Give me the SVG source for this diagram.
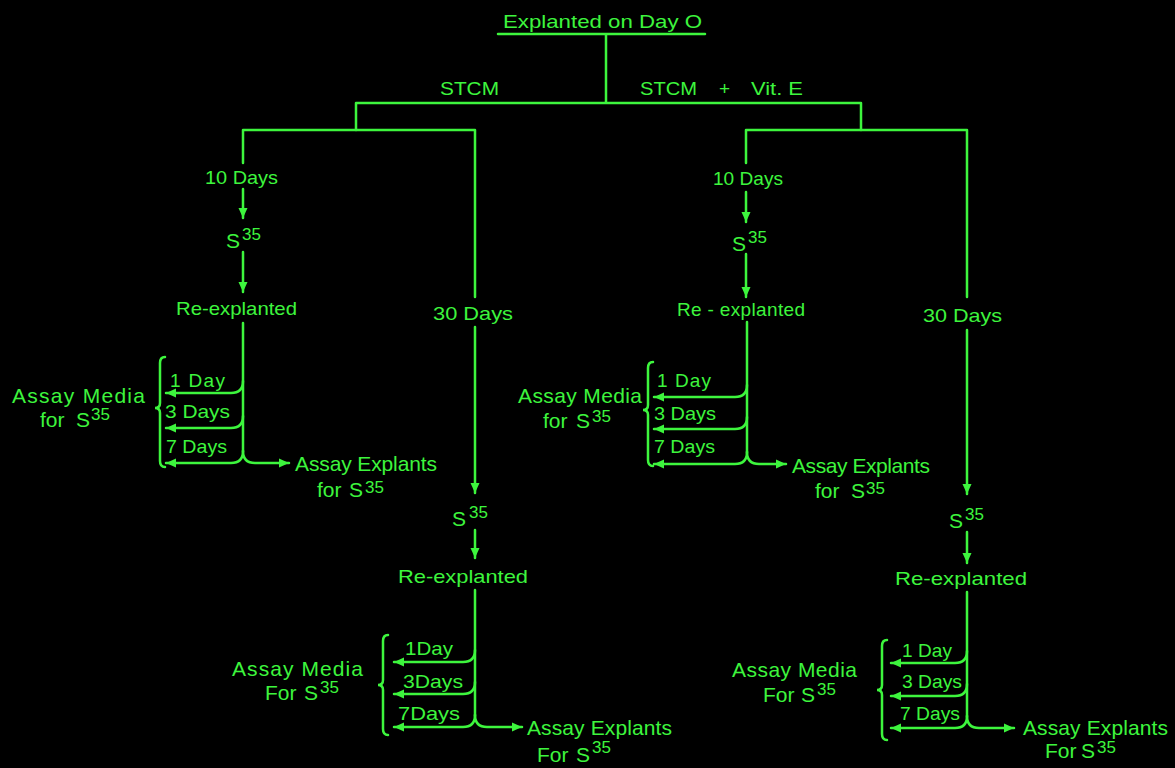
<svg xmlns="http://www.w3.org/2000/svg" width="1175" height="768" viewBox="0 0 1175 768">
<style>
.t{font-family:"Liberation Sans","DejaVu Sans",sans-serif;font-size:19px;fill:#3df53d}
.b{font-size:21px}
.S{font-size:21px}
.s{font-size:17px}
.c{fill:none;stroke:#3df53d;stroke-width:2.5;stroke-linecap:round}
.a{marker-end:url(#ah)}
</style>
<defs>
<marker id="ah" markerUnits="userSpaceOnUse" markerWidth="11" markerHeight="10" refX="10" refY="5" orient="auto">
<path d="M0,0.5 L10,5 L0,9.5 z" fill="#3df53d"/>
</marker>
</defs>
<rect width="1175" height="768" fill="#000"/>

<g id="title"><text class="t" x="503" y="28" textLength="199" lengthAdjust="spacingAndGlyphs">Explanted on Day O</text><path class="c" d="M498,34 H705"/></g>
<g id="stcm"><text class="t" x="440" y="95" textLength="59" lengthAdjust="spacingAndGlyphs">STCM</text></g>
<g id="stcm-vite"><text class="t" x="640" y="95"><tspan textLength="57" lengthAdjust="spacingAndGlyphs">STCM</tspan><tspan x="719">+</tspan><tspan x="751" textLength="52" lengthAdjust="spacingAndGlyphs">Vit. E</tspan></text></g>

<!-- left half -->
<g id="l-10days"><text class="t" x="205" y="184" textLength="73" lengthAdjust="spacingAndGlyphs">10 Days</text></g>
<g id="l-s35a"><text class="t S" x="226" y="248">S<tspan class="s" x="242" y="240">35</tspan></text></g>
<g id="l-reexp-a"><text class="t" x="176" y="315" textLength="121" lengthAdjust="spacingAndGlyphs">Re-explanted</text></g>
<g id="l-days-a"><text class="t" x="170" y="387" textLength="55" lengthAdjust="spacing">1 Day</text><text class="t" x="165" y="418" textLength="65" lengthAdjust="spacingAndGlyphs">3 Days</text><text class="t" x="166" y="453" textLength="61" lengthAdjust="spacingAndGlyphs">7 Days</text></g>
<g id="l-media-a"><text class="t b" x="12" y="403" textLength="133" lengthAdjust="spacing">Assay Media</text><text class="t b" x="40" y="427">for<tspan x="76">S</tspan><tspan class="s" x="91" y="420">35</tspan></text></g>
<g id="l-expl-a"><text class="t b" x="295" y="471" textLength="142" lengthAdjust="spacing">Assay Explants</text><text class="t b" x="317" y="497">for<tspan x="349">S</tspan><tspan class="s" x="365" y="493">35</tspan></text></g>
<g id="l-30days"><text class="t" x="433" y="320" textLength="80" lengthAdjust="spacingAndGlyphs">30 Days</text></g>
<g id="l-s35b"><text class="t S" x="452" y="526">S<tspan class="s" x="469" y="518">35</tspan></text></g>
<g id="l-reexp-b"><text class="t" x="398" y="583" textLength="130" lengthAdjust="spacingAndGlyphs">Re-explanted</text></g>
<g id="l-days-b"><text class="t" x="405" y="655" textLength="48" lengthAdjust="spacingAndGlyphs">1Day</text><text class="t" x="403" y="688" textLength="60" lengthAdjust="spacingAndGlyphs">3Days</text><text class="t" x="398" y="720" textLength="62" lengthAdjust="spacingAndGlyphs">7Days</text></g>
<g id="l-media-b"><text class="t b" x="232" y="676" textLength="131" lengthAdjust="spacing">Assay Media</text><text class="t b" x="265" y="700">For<tspan x="304">S</tspan><tspan class="s" x="320" y="693">35</tspan></text></g>
<g id="l-expl-b"><text class="t b" x="527" y="735" textLength="145" lengthAdjust="spacing">Assay Explants</text><text class="t b" x="537" y="762">For<tspan x="576">S</tspan><tspan class="s" x="592" y="753">35</tspan></text></g>

<!-- right half -->
<g id="r-10days"><text class="t" x="713" y="185" textLength="70" lengthAdjust="spacingAndGlyphs">10 Days</text></g>
<g id="r-s35a"><text class="t S" x="732" y="251">S<tspan class="s" x="748" y="243">35</tspan></text></g>
<g id="r-reexp-a"><text class="t" x="677" y="316" textLength="128" lengthAdjust="spacing">Re - explanted</text></g>
<g id="r-days-a"><text class="t" x="657" y="387" textLength="54" lengthAdjust="spacing">1 Day</text><text class="t" x="654" y="420" textLength="62" lengthAdjust="spacingAndGlyphs">3 Days</text><text class="t" x="654" y="453" textLength="61" lengthAdjust="spacingAndGlyphs">7 Days</text></g>
<g id="r-media-a"><text class="t b" x="518" y="403" textLength="124" lengthAdjust="spacing">Assay Media</text><text class="t b" x="543" y="428">for<tspan x="576">S</tspan><tspan class="s" x="592" y="422">35</tspan></text></g>
<g id="r-expl-a"><text class="t b" x="792" y="473" textLength="138" lengthAdjust="spacing">Assay Explants</text><text class="t b" x="815" y="498">for<tspan x="851">S</tspan><tspan class="s" x="866" y="494">35</tspan></text></g>
<g id="r-30days"><text class="t" x="923" y="322" textLength="79" lengthAdjust="spacingAndGlyphs">30 Days</text></g>
<g id="r-s35b"><text class="t S" x="949" y="528">S<tspan class="s" x="965" y="520">35</tspan></text></g>
<g id="r-reexp-b"><text class="t" x="895" y="585" textLength="132" lengthAdjust="spacingAndGlyphs">Re-explanted</text></g>
<g id="r-days-b"><text class="t" x="902" y="657" textLength="50" lengthAdjust="spacing">1 Day</text><text class="t" x="902" y="688" textLength="60" lengthAdjust="spacingAndGlyphs">3 Days</text><text class="t" x="900" y="720" textLength="60" lengthAdjust="spacingAndGlyphs">7 Days</text></g>
<g id="r-media-b"><text class="t b" x="732" y="677" textLength="125" lengthAdjust="spacing">Assay Media</text><text class="t b" x="763" y="702">For<tspan x="801">S</tspan><tspan class="s" x="817" y="695">35</tspan></text></g>
<g id="r-expl-b"><text class="t b" x="1023" y="735" textLength="145" lengthAdjust="spacing">Assay Explants</text><text class="t b" x="1045" y="758">For<tspan x="1081">S</tspan><tspan class="s" x="1097" y="753">35</tspan></text></g>

<g id="connectors">
<path class="c" d="M606,35 V103 M356,103 H861 M356,103 V130 M861,103 V130"/>
<path class="c" d="M243,130 H475 M243,130 V163 M475,130 V297"/>
<path class="c" d="M746,130 H967 M746,130 V163 M967,130 V297"/>
<path class="c a" d="M243,189 V218"/>
<path class="c a" d="M243,252 V292"/>
<path class="c" d="M243,323 V451"/>
<path class="c a" d="M243,381 Q243,393 231,393 H166"/>
<path class="c a" d="M243,416 Q243,428 231,428 H166"/>
<path class="c a" d="M243,451 Q243,463 231,463 H166"/>
<path class="c a" d="M243,451 Q243,463 255,463 H289"/>
<path class="c" d="M165,357 Q160,357 160,363 V403 Q160,408 155,408 Q160,408 160,413 V461 Q160,467 165,467"/>
<path class="c a" d="M475,327 V493"/>
<path class="c a" d="M475,530 V558"/>
<path class="c" d="M475,590 V715"/>
<path class="c a" d="M475,650 Q475,662 463,662 H394"/>
<path class="c a" d="M475,682 Q475,694 463,694 H394"/>
<path class="c a" d="M475,715 Q475,727 463,727 H394"/>
<path class="c a" d="M475,715 Q475,727 487,727 H522"/>
<path class="c" d="M388,635 Q383,635 383,641 V680 Q383,685 378,685 Q383,685 383,690 V729 Q383,735 388,735"/>
<path class="c a" d="M746,192 V222"/>
<path class="c a" d="M746,254 V297"/>
<path class="c" d="M747,322 V452"/>
<path class="c a" d="M747,385 Q747,397 735,397 H654"/>
<path class="c a" d="M747,417 Q747,429 735,429 H654"/>
<path class="c a" d="M747,452 Q747,464 735,464 H654"/>
<path class="c a" d="M747,452 Q747,464 759,464 H786"/>
<path class="c" d="M653,362 Q648,362 648,368 V405 Q648,410 643,410 Q648,410 648,415 V460 Q648,466 653,466"/>
<path class="c a" d="M967,330 V494"/>
<path class="c a" d="M967,532 V563"/>
<path class="c" d="M967,592 V716"/>
<path class="c a" d="M967,651 Q967,663 955,663 H891"/>
<path class="c a" d="M967,684 Q967,696 955,696 H891"/>
<path class="c a" d="M967,716 Q967,728 955,728 H891"/>
<path class="c a" d="M967,716 Q967,728 979,728 H1014"/>
<path class="c" d="M887,640 Q882,640 882,646 V685 Q882,690 877,690 Q882,690 882,695 V734 Q882,740 887,740"/>
</g>
</svg>
